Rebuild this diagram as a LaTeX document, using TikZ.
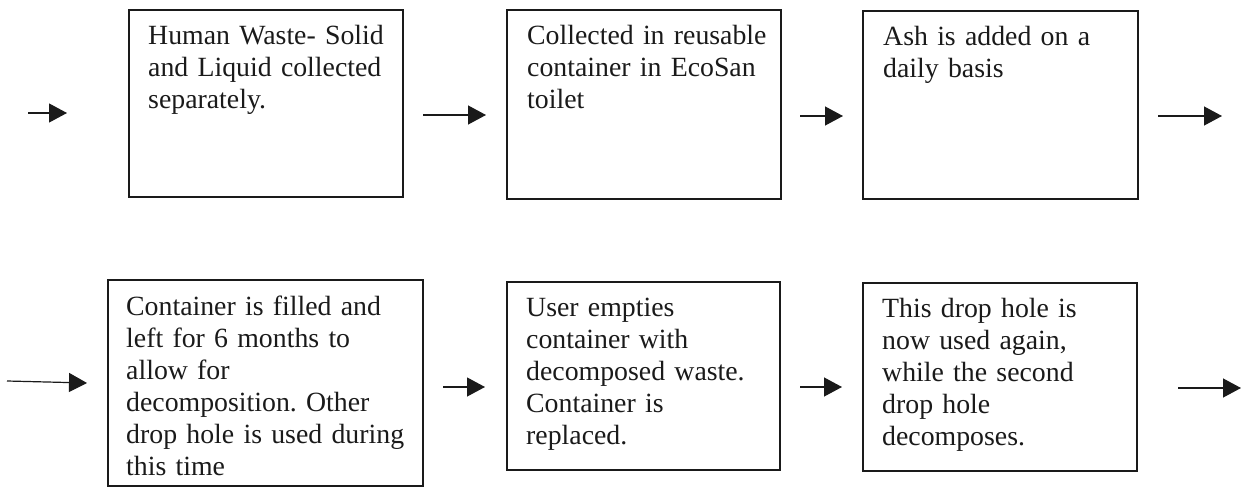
\documentclass[tikz,border=0pt]{standalone}
\usepackage{fontspec}
\setmainfont{Liberation Serif}
\usetikzlibrary{arrows.meta}
\definecolor{ink}{HTML}{1A1A1A}
\frenchspacing
\begin{document}
\begin{tikzpicture}[x=1pt,y=-1pt,
  box/.style={draw=ink, line width=1.3pt, inner sep=0pt, outer sep=0pt, anchor=north west},
  txt/.style={anchor=base west, inner sep=0pt, text width=300pt, align=left, text=ink,
    font={\fontsize{27.8}{32}\selectfont\frenchspacing}},
  flow/.style={draw=ink, line width=1.2pt, -{Triangle[length=18pt,width=19pt]}}]
\useasboundingbox (0,0) rectangle (1250,487);
% boxes
\node[box, minimum width=274pt, minimum height=187pt] (b1) at (129,10) {};
\node[box, minimum width=274pt, minimum height=189pt] (b2) at (507,10) {};
\node[box, minimum width=275pt, minimum height=188pt] (b3) at (863,11) {};
\node[box, minimum width=315pt, minimum height=206pt] (b4) at (108,280) {};
\node[box, minimum width=273pt, minimum height=188pt] (b5) at (507,282) {};
\node[box, minimum width=274pt, minimum height=188pt] (b6) at (863,283) {};
% texts
\node[txt] (t1) at (148,45) {Human Waste- Solid\\and Liquid collected\\separately.};
\node[txt] (t2) at (527,45) {Collected in reusable\\container in EcoSan\\toilet};
\node[txt] (t3) at (883,46) {Ash is added on a\\daily basis};
\node[txt] (t4) at (126,315) {Container is filled and\\left for 6 months to\\allow for\\decomposition. Other\\drop hole is used during\\this time};
\node[txt] (t5) at (526,316) {User empties\\container with\\decomposed waste.\\Container is\\replaced.};
\node[txt] (t6) at (882,317) {This drop hole is\\now used again,\\while the second\\drop hole\\decomposes.};
% arrow end points
\coordinate (a0s) at (28,113);   \coordinate (a0e) at (67,113);
\coordinate (a1s) at (423,115);  \coordinate (a1e) at (486,115);
\coordinate (a2s) at (800,116);  \coordinate (a2e) at (843,116);
\coordinate (a3s) at (1158,116); \coordinate (a3e) at (1222,116);
\coordinate (a4s) at (7,381);    \coordinate (a4e) at (87,383);
\coordinate (a5s) at (443,387);  \coordinate (a5e) at (485,387);
\coordinate (a6s) at (800,387);  \coordinate (a6e) at (842,387);
\coordinate (a7s) at (1178,388); \coordinate (a7e) at (1241,388);
\draw[flow] (a0s) -- (a0e);
\draw[flow] (a1s) -- (a1e);
\draw[flow] (a2s) -- (a2e);
\draw[flow] (a3s) -- (a3e);
\draw[flow] (a4s) -- (a4e);
\draw[flow] (a5s) -- (a5e);
\draw[flow] (a6s) -- (a6e);
\draw[flow] (a7s) -- (a7e);
\end{tikzpicture}
\end{document}
